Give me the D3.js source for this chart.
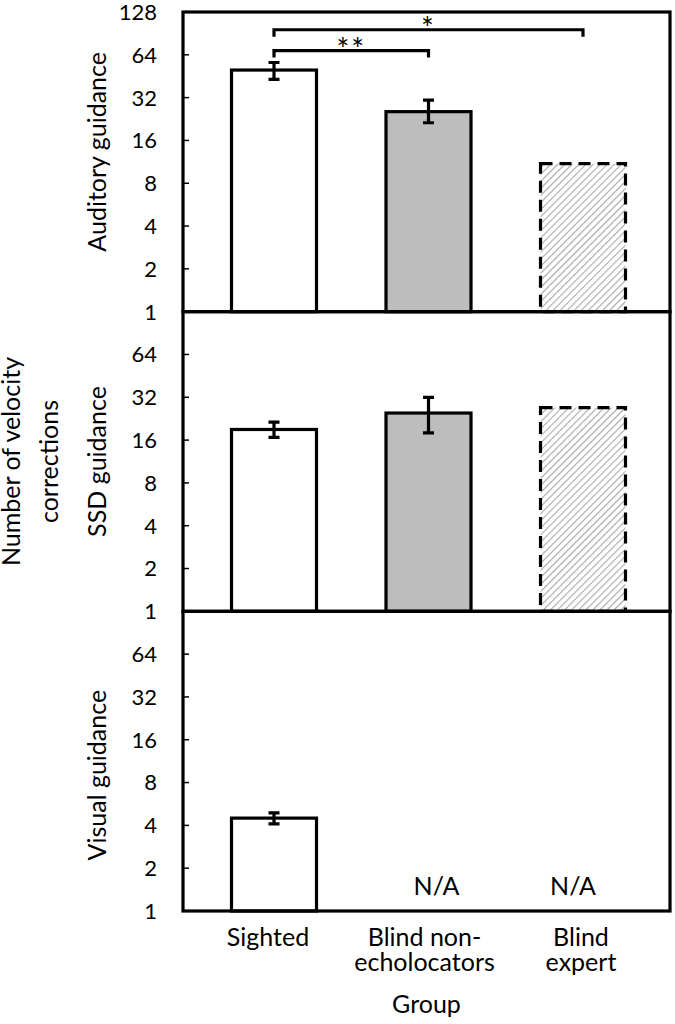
<!DOCTYPE html>
<html>
<head>
<meta charset="utf-8">
<script src="https://cdn.jsdelivr.net/npm/d3@7"></script>
<style>
  body { margin: 0; background: #fff; }
  svg { display: block; font-family: Lato, "Open Sans", sans-serif; }
</style>
</head>
<body>
<div id="chart"></div>
<script>
// data
const groups = ['Sighted', 'Blind non-echolocators', 'Blind expert'];
const groupLines = [['Sighted'], ['Blind non-', 'echolocators'], ['Blind', 'expert']];
const panelNames = ['Auditory guidance', 'SSD guidance', 'Visual guidance'];
const tickValues = [1, 2, 4, 8, 16, 32, 64, 128];

const auditoryMean = [50, 25.5, 11];
const auditoryHi = [56.5, 30.7, null];
const auditoryLo = [43, 21.3, null];

const ssdMean = [19, 24.8, 27.1];
const ssdHi = [21.4, 32, null];
const ssdLo = [16.7, 18, null];

const visualMean = [4.5, null, null];
const visualHi = [4.9, null, null];
const visualLo = [4.1, null, null];

// significance brackets (auditory panel): from group, to group, level, label
const sigFrom = ['Sighted', 'Sighted'];
const sigTo = ['Blind non-echolocators', 'Blind expert'];
const sigLevel = [68.5, 96];
const sigLabel = ['**', '*'];

const panels = [
  { name: panelNames[0], mean: auditoryMean, hi: auditoryHi, lo: auditoryLo },
  { name: panelNames[1], mean: ssdMean, hi: ssdHi, lo: ssdLo },
  { name: panelNames[2], mean: visualMean, hi: visualHi, lo: visualLo }
];

const W = 675, H = 1024;
const plotL = 183, plotR = 670, plotT = 12, plotB = 911;
const panelH = (plotB - plotT) / 3;
const barW = 85;
const titleShift = [-10, 0, 14];
const labelShift = [-6, -4, -2];
const groupStyle = [
  { fill: '#fff', dash: null },
  { fill: '#bdbdbd', dash: null },
  { fill: 'url(#hatch)', dash: '12,7' }
];

const svg = d3.select('#chart').append('svg')
  .attr('width', W)
  .attr('height', H);

const defs = svg.append('defs');
const pat = defs.append('pattern')
  .attr('id', 'hatch')
  .attr('patternUnits', 'userSpaceOnUse')
  .attr('width', 5)
  .attr('height', 5)
  .attr('patternTransform', 'rotate(45)');
pat.append('rect').attr('width', 5).attr('height', 5).attr('fill', '#fff');
pat.append('line')
  .attr('x1', 0).attr('y1', 0).attr('x2', 0).attr('y2', 5)
  .attr('stroke', '#a8a8a8')
  .attr('stroke-width', 2.2);

const x = d3.scalePoint().domain(groups).range([274, 583]);

panels.forEach((p, pi) => {
  const y0 = plotT + pi * panelH;
  const y = d3.scaleLog().base(2).domain([1, 128]).range([y0 + panelH, y0]);
  const g = svg.append('g');

  // bars
  const rows = groups.map((grp, i) => ({ grp, i, v: p.mean[i], hi: p.hi[i], lo: p.lo[i] }))
    .filter(d => d.v != null);

  g.selectAll('rect.bar')
    .data(rows)
    .join('rect')
    .attr('class', 'bar')
    .attr('x', d => x(d.grp) - barW / 2)
    .attr('y', d => y(d.v))
    .attr('width', barW)
    .attr('height', d => y(1) - y(d.v))
    .attr('fill', d => groupStyle[d.i].fill)
    .attr('stroke', '#000')
    .attr('stroke-width', 3.2)
    .attr('stroke-dasharray', d => groupStyle[d.i].dash);

  // error bars
  const errs = rows.filter(d => d.hi != null);
  g.selectAll('path.err')
    .data(errs)
    .join('path')
    .attr('class', 'err')
    .attr('d', d => {
      const cx = x(d.grp), a = y(d.hi), b = y(d.lo);
      return `M${cx - 5.5},${a}H${cx + 5.5}M${cx},${a}V${b}M${cx - 5.5},${b}H${cx + 5.5}`;
    })
    .attr('fill', 'none')
    .attr('stroke', '#000')
    .attr('stroke-width', 3.2);

  // N/A labels where no data
  groups.forEach((grp, i) => {
    if (p.mean[i] == null) {
      g.append('text')
        .attr('x', x(grp) + (i === 1 ? 8 : -10))
        .attr('y', y(1) - 16)
        .attr('text-anchor', 'middle')
        .style('font-size', '25px')
        .text('N/A');
    }
  });

  // frame
  g.append('rect')
    .attr('x', plotL)
    .attr('y', y0)
    .attr('width', plotR - plotL)
    .attr('height', panelH)
    .attr('fill', 'none')
    .attr('stroke', '#000')
    .attr('stroke-width', 3.2);

  // inner ticks
  g.selectAll('line.tick')
    .data(tickValues.slice(1, -1))
    .join('line')
    .attr('x1', plotL)
    .attr('x2', plotL + 6)
    .attr('y1', d => y(d))
    .attr('y2', d => y(d))
    .attr('stroke', '#000')
    .attr('stroke-width', 1.5);

  // tick labels (128 only on the top panel)
  const labels = pi === 0 ? tickValues : tickValues.slice(0, -1);
  g.selectAll('text.tl')
    .data(labels)
    .join('text')
    .attr('class', 'tl')
    .attr('x', 157)
    .attr('y', d => y(d))
    .attr('dy', '0.36em')
    .attr('text-anchor', 'end')
    .style('font-size', '22px')
    .text(d => d);

  // panel title
  g.append('text')
    .attr('transform', `translate(106,${y0 + panelH / 2 + titleShift[pi]}) rotate(-90)`)
    .attr('text-anchor', 'middle')
    .style('font-size', '25px')
    .text(p.name);

  // significance brackets
  if (pi === 0) {
    sigFrom.forEach((f, k) => {
      const ly = y(sigLevel[k]);
      const xa = x(f), xb = x(sigTo[k]);
      g.append('path')
        .attr('d', `M${xa},${ly + 7}V${ly}H${xb}V${ly + 7}`)
        .attr('fill', 'none')
        .attr('stroke', '#000')
        .attr('stroke-width', 3.2);
      g.append('text')
        .attr('x', (xa + xb) / 2)
        .attr('y', ly + 9)
        .attr('text-anchor', 'middle')
        .style('font-size', '30px')
        .style('letter-spacing', '2px')
        .text(sigLabel[k]);
    });
  }
});

// x category labels
groupLines.forEach((lines, i) => {
  lines.forEach((ln, j) => {
    svg.append('text')
      .attr('x', x(groups[i]) + labelShift[i])
      .attr('y', 946 + j * 25)
      .attr('text-anchor', 'middle')
      .style('font-size', '25px')
      .text(ln);
  });
});

svg.append('text')
  .attr('x', (plotL + plotR) / 2)
  .attr('y', 1013)
  .attr('text-anchor', 'middle')
  .style('font-size', '25px')
  .text('Group');

// overall y title
const yt = svg.append('text')
  .attr('transform', `translate(0,${(plotT + plotB) / 2}) rotate(-90)`)
  .attr('text-anchor', 'middle')
  .style('font-size', '25px');
yt.append('tspan').attr('x', 0).attr('y', 20).text('Number of velocity');
yt.append('tspan').attr('x', 0).attr('y', 58).text('corrections');
</script>
</body>
</html>
